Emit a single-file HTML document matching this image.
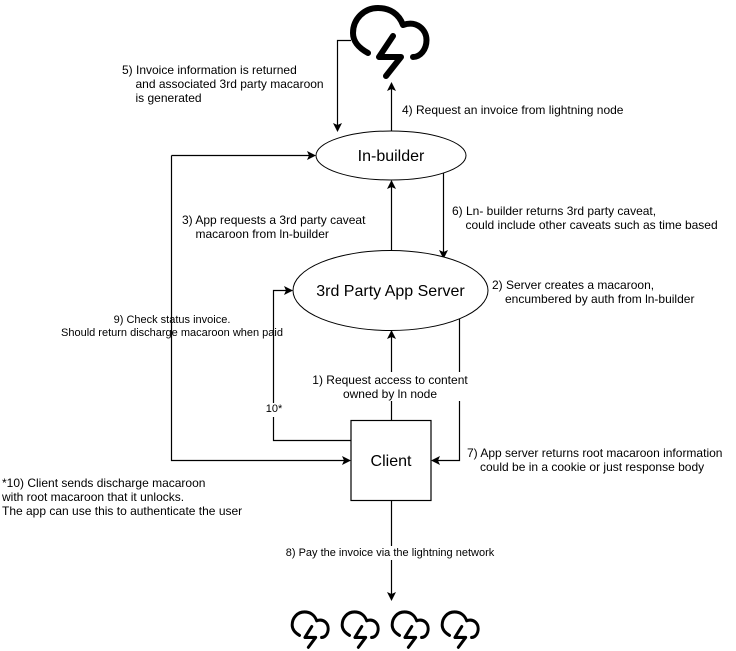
<!DOCTYPE html>
<html><head><meta charset="utf-8"><style>
html,body{margin:0;padding:0;background:#fff}
svg{display:block}
text{font-family:"Liberation Sans",Arial,sans-serif;font-size:12px;fill:#000}
.s{font-size:11px}
.b{font-size:16px;text-anchor:middle}
.m{text-anchor:middle}
.l{fill:none;stroke:#000;stroke-width:1.2}
.c{fill:none;stroke:#000;stroke-linecap:round;stroke-linejoin:round}
</style></head><body>
<svg width="736" height="651" viewBox="0 0 736 651" xmlns="http://www.w3.org/2000/svg">
<defs>
<g id="cloud">
<path d="M368 53C359 48 353 42 353 33C353 19 364 8 378 8C390 8 399 14 403 25C417 20 426.500 30 426.500 40C426.500 50 420 57 413 57"/>
<path d="M393 36L379 57H401L386 76"/>
</g>
</defs>
<rect width="736" height="651" fill="#fff"/>
<path class="l" d="M391.500 131V88M351 40.500H337.500V125M171.500 155.500H309M171.500 155.500V460.500H344M351 440.500H273.500V290.500H286M391.500 250V186M443.500 173V252M391.500 420V336M459.500 319V460.500H438M391.500 500V594"/>
<g fill="#000">
<path d="M391.500 82L396 91L391.500 89L387 91Z"/>
<path d="M337.500 132L333 123L337.500 125L342 123Z"/>
<path d="M316 155.500L307 151L309 155.500L307 160Z"/>
<path d="M351 460.500L342 456L344 460.500L342 465Z"/>
<path d="M293 290.500L284 286L286 290.500L284 295Z"/>
<path d="M391.500 180L396 189L391.500 187L387 189Z"/>
<path d="M443.500 259L439 250L443.500 252L448 250Z"/>
<path d="M391.500 330L396 339L391.500 337L387 339Z"/>
<path d="M431 460.500L440 456L438 460.500L440 465Z"/>
<path d="M391.500 601L387 592L391.500 594L396 592Z"/>
</g>
<ellipse cx="391" cy="155.500" rx="75" ry="24.500" fill="#fff" stroke="#000"/>
<ellipse cx="390.500" cy="290.500" rx="97.500" ry="40" fill="#fff" stroke="#000"/>
<rect x="351" y="420.500" width="80" height="80" fill="#fff" stroke="#000" stroke-width="1.2"/>
<use href="#cloud" class="c" stroke-width="6"/>
<g class="c" stroke-width="6">
<use href="#cloud" transform="translate(119.200 607.800) scale(.49 .52)"/>
<use href="#cloud" transform="translate(169.200 607.800) scale(.49 .52)"/>
<use href="#cloud" transform="translate(219.200 607.800) scale(.49 .52)"/>
<use href="#cloud" transform="translate(269.200 607.800) scale(.49 .52)"/>
</g>
<rect x="312" y="372" width="157" height="29" fill="#fff"/>
<rect x="264" y="403" width="20" height="14" fill="#fff"/>
<rect x="282" y="546" width="216" height="14" fill="#fff"/>
<text class="b" x="391" y="161">In-builder</text>
<text class="b" x="390.500" y="296">3rd Party App Server</text>
<text class="b" x="391" y="466">Client</text>
<text x="122" y="74">5) Invoice information is returned</text>
<text x="135.500" y="88">and associated 3rd party macaroon</text>
<text x="135.500" y="102">is generated</text>
<text x="402" y="114">4) Request an invoice from lightning node</text>
<text x="182" y="224">3) App requests a 3rd party caveat</text>
<text x="195.500" y="238">macaroon from ln-builder</text>
<text x="452" y="215">6) Ln- builder returns 3rd party caveat,</text>
<text x="465.500" y="229">could include other caveats such as time based</text>
<text x="492" y="289">2) Server creates a macaroon,</text>
<text x="505" y="303">encumbered by auth from ln-builder</text>
<text class="m s" x="172" y="323">9) Check status invoice.</text>
<text class="m s" x="172" y="336">Should return discharge macaroon when paid</text>
<text class="m" x="390" y="384">1) Request access to content</text>
<text class="m" x="390" y="398">owned by ln node</text>
<text class="m s" x="274" y="412">10*</text>
<text x="467" y="457">7) App server returns root macaroon information</text>
<text x="480" y="471">could be in a cookie or just response body</text>
<text x="2" y="487">*10) Client sends discharge macaroon</text>
<text x="2" y="501">with root macaroon that it unlocks.</text>
<text x="2" y="515">The app can use this to authenticate the user</text>
<text class="m s" x="390" y="556">8) Pay the invoice via the lightning network</text>
</svg>
</body></html>
